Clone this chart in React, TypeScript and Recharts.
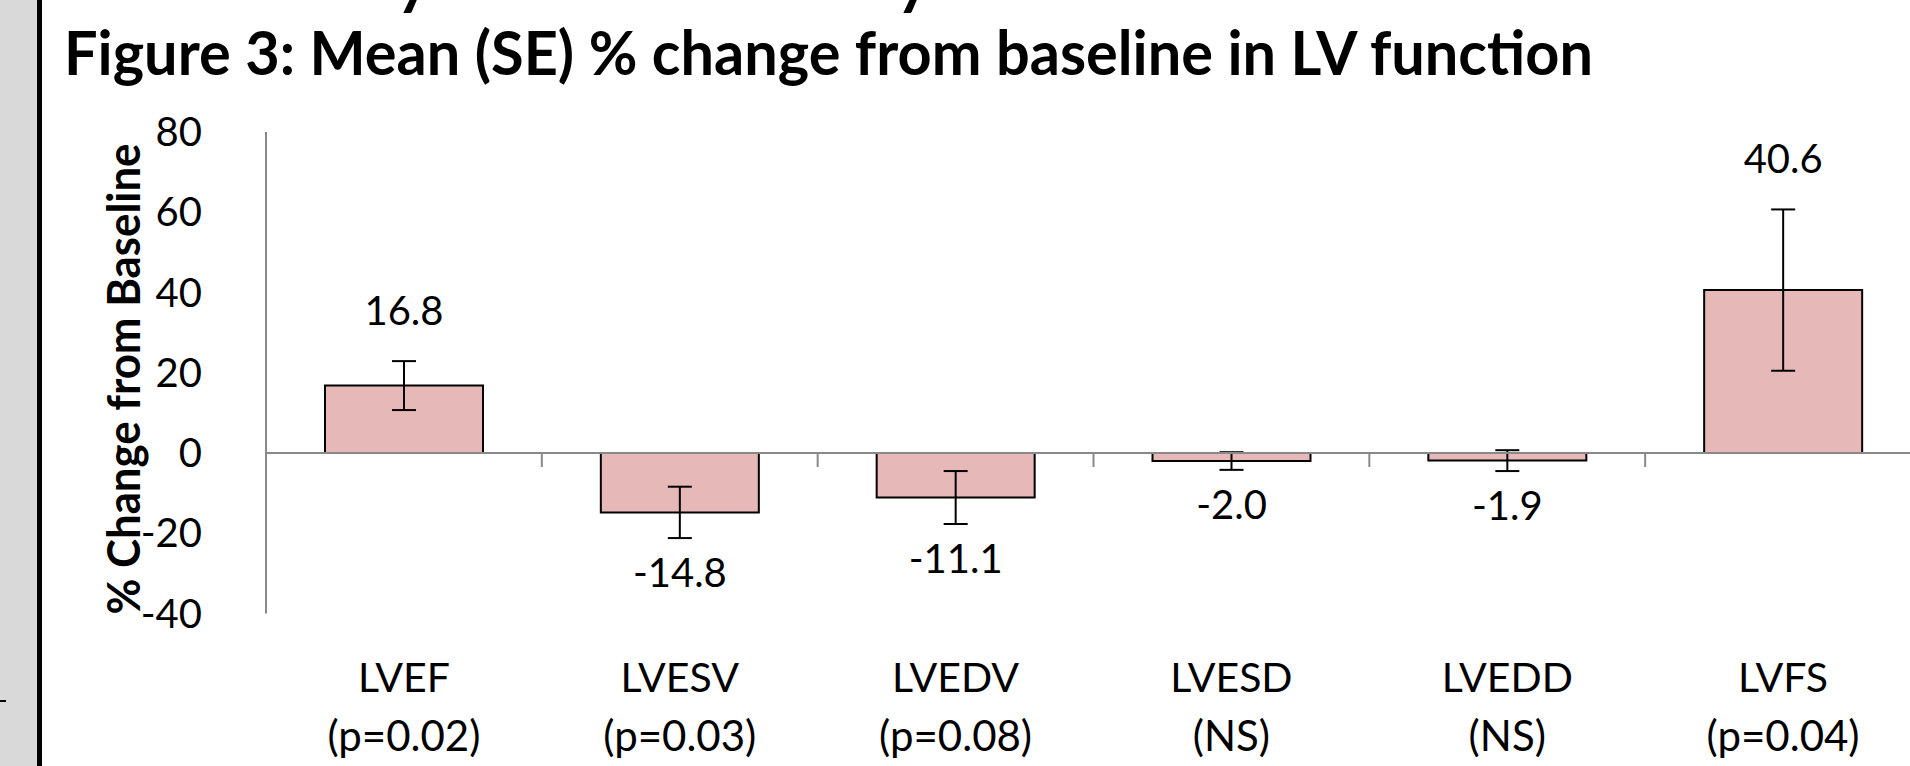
import { Bar, BarChart, ErrorBar, LabelList, ReferenceLine, XAxis, YAxis } from 'recharts';

// Figure 3 — mean (SE) % change from baseline in LV function
const categories = ['LVEF', 'LVESV', 'LVEDV', 'LVESD', 'LVEDD', 'LVFS'];
const pLabels = ['(p=0.02)', '(p=0.03)', '(p=0.08)', '(NS)', '(NS)', '(p=0.04)'];
const meanChange = [16.8, -14.8, -11.1, -2.0, -1.9, 40.6];
const stdErr = [6.1, 6.4, 6.6, 2.2, 2.6, 20.1];
const yTicks = [-40, -20, 0, 20, 40, 60, 80];

const data = categories.map((name, i) => ({
  name,
  p: pLabels[i],
  value: meanChange[i],
  se: stdErr[i],
}));

const FONT = 'Lato, "Liberation Sans", sans-serif';
const AXIS_GREY = '#898989';

function CategoryTick(props: any) {
  const { x, y, payload, index } = props;
  const i = typeof index === 'number' ? index : categories.indexOf(payload.value);
  return (
    <g>
      <text x={x} y={y + 78} textAnchor="middle" fontFamily={FONT} fontSize={41} fill="#000">
        {payload.value}
      </text>
      <text x={x} y={y + 137} textAnchor="middle" fontFamily={FONT} fontSize={42} fill="#000">
        {pLabels[i]}
      </text>
    </g>
  );
}

function ValueLabel(props: any) {
  const x = Number(props.x);
  const y = Number(props.y);
  const w = Number(props.width);
  const h = Number(props.height);
  const v = Number(props.value);
  const i = typeof props.index === 'number' ? props.index : meanChange.indexOf(v);
  const top = Math.min(y, y + h);
  const bottom = Math.max(y, y + h);
  const ppu = Math.abs(h) / Math.abs(v);
  const cx = x + w / 2;
  const ty = v >= 0 ? top - stdErr[i] * ppu - 36 : bottom + stdErr[i] * ppu + 49;
  return (
    <text x={cx} y={ty} textAnchor="middle" fontFamily={FONT} fontSize={40} fill="#000">
      {v.toFixed(1)}
    </text>
  );
}

export default function App() {
  return (
    <div
      style={{
        position: 'fixed',
        left: 0,
        top: 0,
        width: 1910,
        height: 766,
        overflow: 'hidden',
        background: '#fff',
      }}
    >
      <div style={{ position: 'absolute', left: 0, top: 0 }}>
        <BarChart
          width={1930}
          height={766}
          data={data}
          margin={{ top: 132, right: 9, bottom: 2.5, left: 0 }}
        >
          <YAxis
            width={266}
            domain={[-40, 80]}
            ticks={yTicks}
            interval={0}
            tickLine={false}
            tickSize={0}
            tickMargin={64}
            axisLine={{ stroke: AXIS_GREY, strokeWidth: 2 }}
            tick={{ fill: '#000', fontSize: 40, fontFamily: FONT }}
          />
          <XAxis
            dataKey="name"
            height={150}
            axisLine={false}
            tickLine={false}
            tickSize={0}
            tickMargin={0}
            interval={0}
            tick={<CategoryTick />}
          />
          <Bar
            dataKey="value"
            fill="#E6B9B8"
            stroke="#000"
            strokeWidth={2}
            barSize={158}
            isAnimationActive={false}
          >
            <ErrorBar dataKey="se" width={12} stroke="#000" strokeWidth={2} direction="y" />
            <LabelList dataKey="value" content={<ValueLabel />} />
          </Bar>
          <ReferenceLine y={0} stroke={AXIS_GREY} strokeWidth={2} />
          {categories.map((c) => (
            <ReferenceLine
              key={c}
              segment={[
                { x: c, y: 0 },
                { x: c, y: 0 },
              ]}
              position="start"
              shape={(p: any) => (
                <line x1={p.x1} y1={p.y1} x2={p.x1} y2={p.y1 + 14} stroke={AXIS_GREY} strokeWidth={2} />
              )}
            />
          ))}
        </BarChart>
      </div>
      <svg
        width={1910}
        height={766}
        style={{ position: 'absolute', left: 0, top: 0, pointerEvents: 'none' }}
      >
        <rect x={0} y={0} width={37} height={766} fill="#d9d9d9" />
        <rect x={37} y={0} width={5} height={766} fill="#000" />
        <line x1={0} y1={701} x2={6} y2={701} stroke="#000" strokeWidth={2} />
        <text x={396} y={3} fontFamily={FONT} fontWeight={700} fontSize={64} fill="#000">y</text>
        <text x={896} y={3} fontFamily={FONT} fontWeight={700} fontSize={64} fill="#000">y</text>
        <text
          x={64}
          y={75}
          fontFamily={FONT}
          fontWeight={700}
          fontSize={61}
          textLength={1529}
          lengthAdjust="spacingAndGlyphs"
          fill="#000"
        >
          Figure 3: Mean (SE) % change from baseline in LV function
        </text>
        <text
          transform="translate(140, 379) rotate(-90)"
          textAnchor="middle"
          fontFamily={FONT}
          fontWeight={700}
          fontSize={46}
          textLength={471}
          lengthAdjust="spacingAndGlyphs"
          fill="#000"
        >
          % Change from Baseline
        </text>
      </svg>
    </div>
  );
}
